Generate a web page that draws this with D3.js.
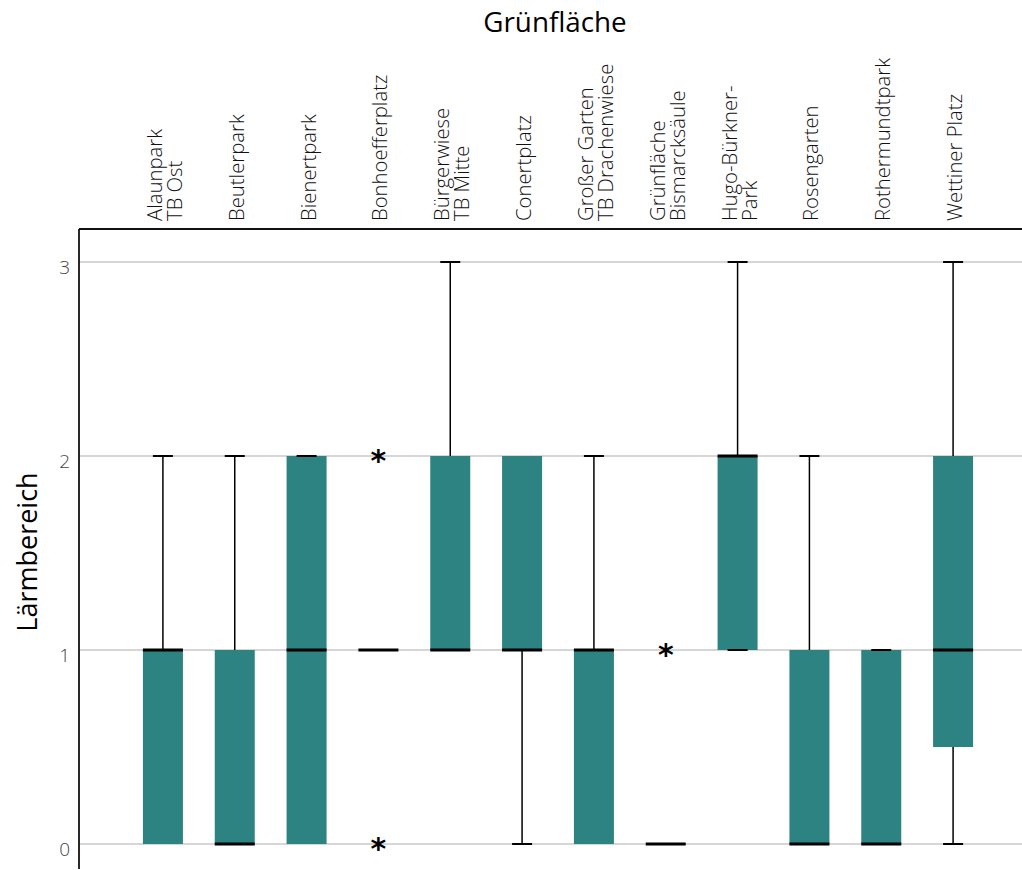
<!DOCTYPE html>
<html>
<head>
<meta charset="utf-8">
<script src="https://cdn.jsdelivr.net/npm/d3@7"></script>
<style>
  html, body { margin: 0; padding: 0; background: #fff; }
  svg { display: block; font-family: "Open Sans", "DejaVu Sans", sans-serif; }
</style>
</head>
<body>
<svg id="chart" width="1022" height="870"></svg>
<script>
// Green spaces (category labels, "\n" separates label lines)
const categories = [
  "Alaunpark\nTB Ost", "Beutlerpark", "Bienertpark", "Bonhoefferplatz",
  "Bürgerwiese\nTB Mitte", "Conertplatz", "Großer Garten\nTB Drachenwiese",
  "Grünfläche\nBismarcksäule", "Hugo-Bürkner-\nPark", "Rosengarten",
  "Rothermundtpark", "Wettiner Platz"
];
// Box plot statistics per green space (null = no whisker drawn)
const whiskerLow  = [null, null, null, null, null, 0, null, null, 1, null, null, 0];
const q1          = [0, 0, 0, 1, 1, 1, 0, 0, 1, 0, 0, 0.5];
const median      = [1, 0, 1, 1, 1, 1, 1, 0, 2, 0, 0, 1];
const q3          = [1, 1, 2, 1, 2, 2, 1, 0, 2, 1, 1, 2];
const whiskerHigh = [2, 2, 2, null, 3, null, 2, null, 3, 2, 1, 3];
const outliers    = [[], [], [], [0, 2], [], [], [], [1], [], [], [], []];
const yTicks = [0, 1, 2, 3];

const data = categories.map((c, i) => ({
  name: c, lo: whiskerLow[i], q1: q1[i], med: median[i], q3: q3[i],
  hi: whiskerHigh[i], out: outliers[i]
}));

const svg = d3.select("#chart");
const plotLeft = 79, plotRight = 1022, plotTop = 229, plotBottom = 869;

const x = d3.scaleBand().domain(categories).range([127, 989]);
const y = d3.scaleLinear().domain([0, 3]).range([844, 262]);
const boxW = 40, capW = 20;
const cx = d => x(d.name) + x.bandwidth() / 2;

// Gridlines
svg.append("g").selectAll("line").data(yTicks).join("line")
  .attr("x1", plotLeft).attr("x2", plotRight)
  .attr("y1", d => y(d)).attr("y2", d => y(d))
  .attr("stroke", "#c8c8c8").attr("stroke-width", 1.5);

// Y axis tick labels
svg.append("g").selectAll("text").data(yTicks).join("text")
  .attr("x", 70).attr("y", d => y(d)).attr("dy", "0.62em")
  .attr("text-anchor", "end").attr("font-size", 19).attr("font-weight", 300)
  .attr("fill", "#444").text(d => d3.format("d")(d));

// Frame: top and left lines
svg.append("line").attr("x1", plotLeft).attr("x2", plotRight)
  .attr("y1", plotTop).attr("y2", plotTop).attr("stroke", "#111").attr("stroke-width", 1.8);
svg.append("line").attr("x1", plotLeft).attr("x2", plotLeft)
  .attr("y1", plotTop).attr("y2", plotBottom).attr("stroke", "#111").attr("stroke-width", 1.8);

const boxes = svg.append("g").selectAll("g").data(data).join("g");

// Whiskers
boxes.filter(d => d.hi !== null).append("line")
  .attr("x1", cx).attr("x2", cx).attr("y1", d => y(d.q3)).attr("y2", d => y(d.hi))
  .attr("stroke", "#000").attr("stroke-width", 1.5);
boxes.filter(d => d.lo !== null).append("line")
  .attr("x1", cx).attr("x2", cx).attr("y1", d => y(d.q1)).attr("y2", d => y(d.lo))
  .attr("stroke", "#000").attr("stroke-width", 1.5);

// Boxes
boxes.filter(d => d.q3 > d.q1).append("rect")
  .attr("x", d => cx(d) - boxW / 2).attr("width", boxW)
  .attr("y", d => y(d.q3)).attr("height", d => y(d.q1) - y(d.q3))
  .attr("fill", "#2d8282");

// Whisker caps
boxes.filter(d => d.hi !== null).append("line")
  .attr("x1", d => cx(d) - capW / 2).attr("x2", d => cx(d) + capW / 2)
  .attr("y1", d => y(d.hi)).attr("y2", d => y(d.hi))
  .attr("stroke", "#000").attr("stroke-width", 2);
boxes.filter(d => d.lo !== null).append("line")
  .attr("x1", d => cx(d) - capW / 2).attr("x2", d => cx(d) + capW / 2)
  .attr("y1", d => y(d.lo)).attr("y2", d => y(d.lo))
  .attr("stroke", "#000").attr("stroke-width", 2);

// Median lines
boxes.append("line")
  .attr("x1", d => cx(d) - boxW / 2).attr("x2", d => cx(d) + boxW / 2)
  .attr("y1", d => y(d.med)).attr("y2", d => y(d.med))
  .attr("stroke", "#000").attr("stroke-width", 3);

// Outliers
boxes.selectAll("text.outlier").data(d => d.out.map(v => ({ v, c: cx(d) }))).join("text")
  .attr("class", "outlier")
  .attr("x", o => o.c).attr("y", o => y(o.v)).attr("dy", "0.5em")
  .attr("text-anchor", "middle").attr("font-size", 30).attr("font-weight", "bold")
  .attr("font-family", "DejaVu Sans")
  .attr("fill", "#000").text("*");

// Category labels (rotated, multi-line)
const lineH = 20;
svg.append("g").selectAll("text").data(data).join("text")
  .each(function(d) {
    const lines = d.name.split("\n");
    const base = cx(d) + 9 - (lines.length - 1) * lineH / 2;
    const t = d3.select(this)
      .attr("transform", `translate(${base},221) rotate(-90)`)
      .attr("font-size", 20.3).attr("font-weight", 300).attr("fill", "#111");
    lines.forEach((l, k) => {
      t.append("tspan").attr("x", 0).attr("y", k * lineH).text(l);
    });
  });

// Titles
svg.append("text").attr("x", 555).attr("y", 32).attr("text-anchor", "middle")
  .attr("font-size", 27.8).attr("fill", "#000").text("Grünfläche");
svg.append("text").attr("transform", "translate(37,552) rotate(-90)")
  .attr("text-anchor", "middle").attr("font-size", 27).attr("fill", "#000")
  .text("Lärmbereich");
</script>
</body>
</html>
